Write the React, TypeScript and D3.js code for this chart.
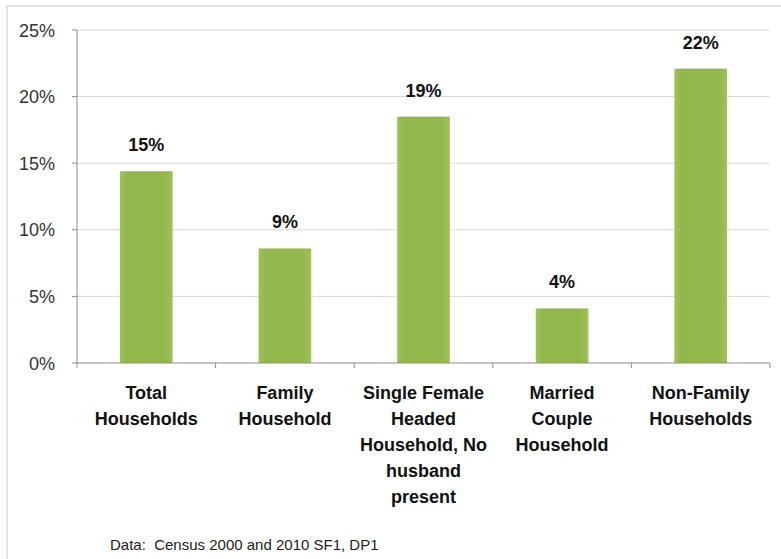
import React from "react";
import * as d3 from "d3";

const categories: string[][] = [
  ["Total", "Households"],
  ["Family", "Household"],
  ["Single Female", "Headed", "Household, No", "husband", "present"],
  ["Married", "Couple", "Household"],
  ["Non-Family", "Households"],
];
const values: number[] = [14.4, 8.6, 18.5, 4.1, 22.1];
const valueLabels: string[] = ["15%", "9%", "19%", "4%", "22%"];
const yTicks: number[] = [0, 5, 10, 15, 20, 25];
const footnote = "Data:  Census 2000 and 2010 SF1, DP1";

const W = 781;
const H = 559;
const plotLeft = 77;
const plotRight = 770;
const plotTop = 30;
const plotBottom = 363;
const font = "'Liberation Sans', Arial, sans-serif";

export default function App() {
  const x = d3
    .scaleBand<number>()
    .domain(values.map((_, i) => i))
    .range([plotLeft, plotRight])
    .paddingInner(0.62)
    .paddingOuter(0.31);
  const y = d3.scaleLinear().domain([0, 25]).range([plotBottom, plotTop]);
  const step = x.step();
  const boundaries = d3.range(values.length + 1).map((i) => plotLeft + (plotRight - plotLeft) * (i / values.length));

  return (
    <svg
      width={W}
      height={H}
      style={{ position: "absolute", left: 0, top: 0, display: "block", background: "#fff" }}
    >
      <defs>
        <linearGradient id="barGrad" x1="0" x2="1" y1="0" y2="0">
          <stop offset="0" stopColor="#9dc25a" />
          <stop offset="0.15" stopColor="#92b84b" />
          <stop offset="0.85" stopColor="#92b84b" />
          <stop offset="1" stopColor="#9dc25a" />
        </linearGradient>
      </defs>
      <rect x={7} y={6} width={W} height={H} fill="#fff" stroke="#d0d0d0" strokeWidth={1.2} />
      {yTicks.map((t) =>
        t === 0 ? null : (
          <line key={"g" + t} x1={plotLeft} x2={plotRight} y1={y(t)} y2={y(t)} stroke="#d9d9d9" strokeWidth={1} />
        )
      )}
      <line x1={plotLeft} x2={plotLeft} y1={plotTop} y2={plotBottom} stroke="#8c8c8c" strokeWidth={1} />
      {yTicks.map((t) => (
        <g key={"yt" + t}>
          <line x1={plotLeft - 5} x2={plotLeft} y1={y(t)} y2={y(t)} stroke="#8c8c8c" />
          <text x={55} y={y(t) + 6.5} textAnchor="end" fontFamily={font} fontSize={18} fill="#333">
            {t}%
          </text>
        </g>
      ))}
      {values.map((v, i) => (
        <g key={"b" + i}>
          <rect
            x={x(i)}
            y={y(v)}
            width={x.bandwidth()}
            height={plotBottom - y(v)}
            fill="url(#barGrad)"
          />
          <text
            x={(x(i) as number) + x.bandwidth() / 2}
            y={y(v) - 20}
            textAnchor="middle"
            fontFamily={font}
            fontWeight="bold"
            fontSize={18}
            fill="#111"
          >
            {valueLabels[i]}
          </text>
        </g>
      ))}
      <line x1={plotLeft} x2={plotRight} y1={plotBottom} y2={plotBottom} stroke="#8c8c8c" strokeWidth={1} />
      {boundaries.map((bx, i) => (
        <line key={"xt" + i} x1={bx} x2={bx} y1={plotBottom} y2={plotBottom + 5} stroke="#8c8c8c" />
      ))}
      {categories.map((lines, i) => (
        <text key={"c" + i} textAnchor="middle" fontFamily={font} fontWeight="bold" fontSize={18} fill="#111">
          {lines.map((ln, j) => (
            <tspan key={j} x={plotLeft + step * (i + 0.5)} y={plotBottom + 36 + j * 26}>
              {ln}
            </tspan>
          ))}
        </text>
      ))}
      <text x={110} y={550} fontFamily={font} fontSize={15} fill="#222" style={{ whiteSpace: "pre" }}>
        {footnote}
      </text>
    </svg>
  );
}
